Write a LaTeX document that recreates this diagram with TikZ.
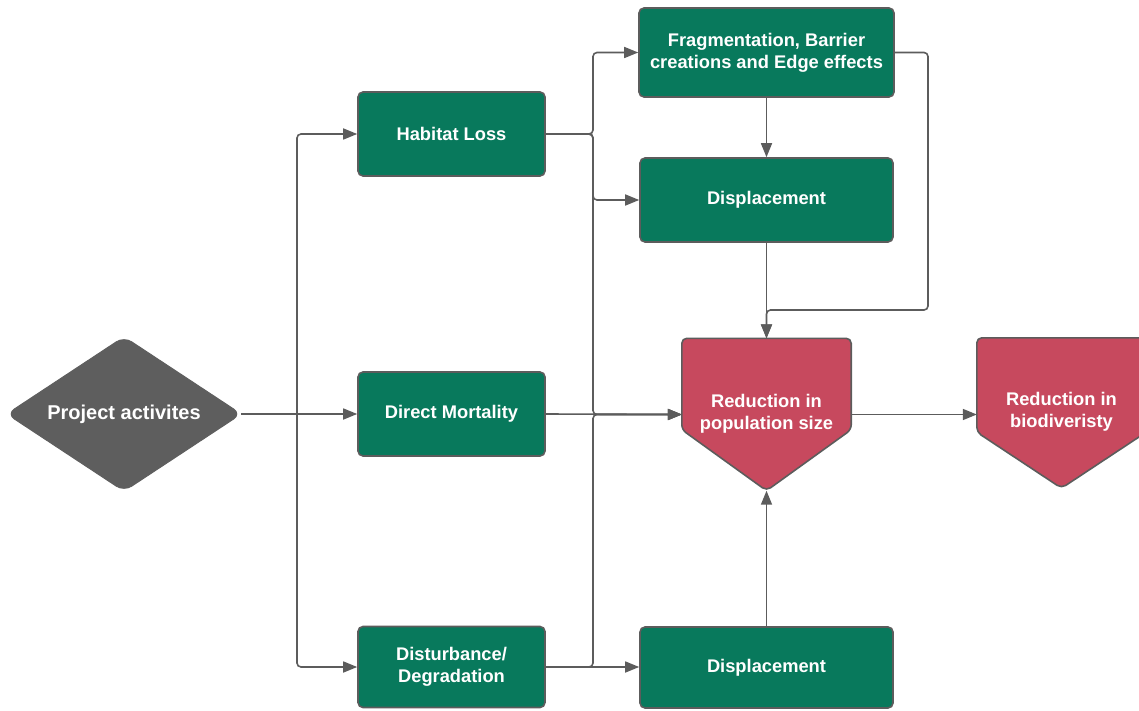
\documentclass[tikz,border=0pt]{standalone}
\usepackage{fontspec}
\setmainfont{Liberation Sans}
\usetikzlibrary{arrows.meta}
\definecolor{boxgreen}{RGB}{8,121,92}
\definecolor{boxred}{RGB}{199,73,94}
\definecolor{edgegray}{RGB}{92,92,92}
\definecolor{diagray}{RGB}{94,94,94}
\begin{document}
\begin{tikzpicture}[x=1pt,y=-1pt,
  gbox/.style={rectangle, rounded corners=5pt, draw=edgegray, line width=1.6pt,
    fill=boxgreen, text=white, font=\bfseries\fontsize{18.3}{22}\selectfont,
    align=center, inner sep=0pt},
  holder/.style={rectangle, draw=none, inner sep=0pt},
  label/.style={text=white, font=\bfseries\fontsize{18.3}{22}\selectfont, align=center, inner sep=0pt},
  redshape/.style={draw=edgegray, line width=1.6pt, fill=boxred, rounded corners=5pt},
  conn/.style={draw=edgegray, line width=1.6pt, rounded corners=4pt,
    -{Triangle[length=14pt,width=11pt]}},
  plain/.style={draw=edgegray, line width=1.6pt, rounded corners=4pt}]
\useasboundingbox (0,0) rectangle (1139,711);

% diamond
\node[holder, minimum width=234pt, minimum height=154pt] (proj) at (124,414) {};
\draw[fill=diagray, draw=diagray, line width=1pt, rounded corners=9pt]
  (proj.west) -- (proj.north) -- (proj.east) -- (proj.south) -- cycle;
\node[label, font=\bfseries\fontsize{20}{24}\selectfont] (projtext) at (proj.center) {Project activites};

% green boxes
\node[gbox, minimum width=187pt, minimum height=84pt] (hab) at (451.5,134) {Habitat Loss};
\node[gbox, minimum width=187pt, minimum height=84pt] (dm) at (451.5,414) {Direct Mortality};
\node[gbox, minimum width=187pt, minimum height=81pt] (dist) at (451.5,667) {Disturbance/\\Degradation};
\node[gbox, minimum width=255pt, minimum height=89pt] (frag) at (766.5,52.5) {Fragmentation, Barrier\\creations and Edge effects};
\node[gbox, minimum width=253pt, minimum height=84pt] (disp1) at (766.5,200) {Displacement};
\node[gbox, minimum width=253pt, minimum height=81pt] (disp2) at (766.5,667.5) {Displacement};

% red pentagons
\node[holder, minimum width=169pt, minimum height=152pt] (pop) at (766.5,414.5) {};
\draw[redshape] (pop.north west) -- (pop.north east) -- ([yshift=61pt]pop.south east)
  -- (pop.south) -- ([yshift=61pt]pop.south west) -- cycle;
\node[label] (poptext) at ([yshift=1pt]pop.center) {Reduction in\\population size};

\node[holder, minimum width=169pt, minimum height=150pt] (bio) at (1061.5,413) {};
\draw[redshape] (bio.north west) -- (bio.north east) -- ([yshift=56pt]bio.south east)
  -- (bio.south) -- ([yshift=56pt]bio.south west) -- cycle;
\node[label] (biotext) at ([yshift=1pt]bio.center) {Reduction in\\biodiveristy};

% bus coordinates
\coordinate (trunk) at (297,0);
\coordinate (bus) at (593,0);
\coordinate (rbus) at (928,310);

% connectors
\draw[conn] (proj.east) -- (dm.west);
\draw[conn] (proj.east -| trunk) |- (hab.west);
\draw[conn] (proj.east -| trunk) |- (dist.west);

\draw[conn] (hab.east) -- (hab.east -| bus) |- (frag.west);
\draw[conn] (hab.east) -- (hab.east -| bus) |- (disp1.west);
\draw[conn] (hab.east) -- (hab.east -| bus) |- (pop.west);
\draw[conn] (dm.east) -- (pop.west);
\draw[conn] (dist.east) -- (dist.east -| bus) |- (pop.west);
\draw[conn] (dist.east) -- (dist.east -| disp2.west);

\draw[conn] (frag.south) -- (disp1.north);
\draw[conn] (frag.east) -| (rbus) -| (pop.north);
\draw[conn] (disp1.south) -- (pop.north);
\draw[conn] (disp2.north) -- (pop.south);
\draw[conn] (pop.east) -- (pop.east -| bio.west);
\end{tikzpicture}
\end{document}
